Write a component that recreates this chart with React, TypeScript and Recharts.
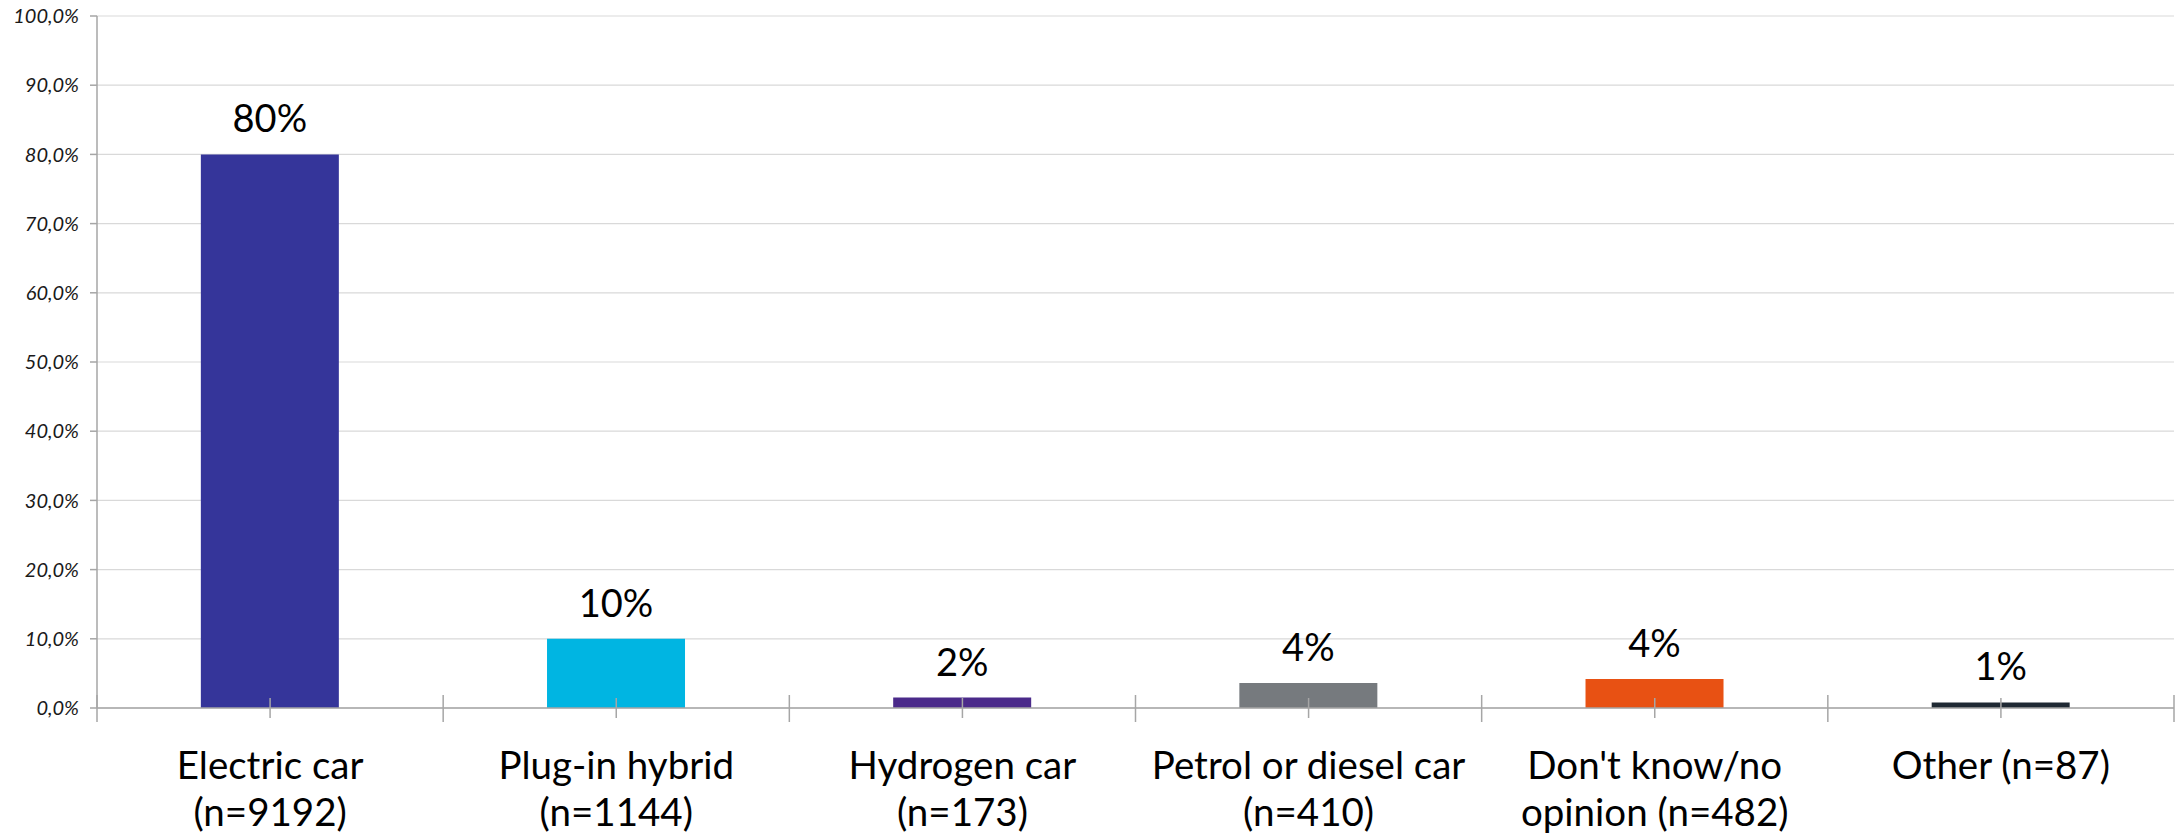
import { BarChart, Bar, XAxis, YAxis, CartesianGrid, Cell, LabelList } from "recharts";

const categories = [
  "Electric car\n(n=9192)",
  "Plug-in hybrid\n(n=1144)",
  "Hydrogen car\n(n=173)",
  "Petrol or diesel car\n(n=410)",
  "Don't know/no\nopinion (n=482)",
  "Other (n=87)",
];
const shares = [80.0, 10.0, 1.5, 3.6, 4.2, 0.8];
const barColors = ["#35359A", "#00B5E2", "#4B2A8A", "#767A7E", "#E85113", "#1F2933"];
const yTicks = [0, 10, 20, 30, 40, 50, 60, 70, 80, 90, 100];

const FONT = "Lato, 'Open Sans', sans-serif";
const AXIS = "#A6A6A6";

const chartData = categories.map((name, i) => ({ name, share: shares[i] }));

function CategoryTick(props: any) {
  const { x, y, payload, index } = props;
  const half = payload?.offset ?? 173;
  const lines = String(payload.value).split("\n");
  return (
    <g>
      <line x1={x} x2={x} y1={y - 10} y2={y + 10} stroke={AXIS} strokeWidth={1.5} />
      <line x1={x + half} x2={x + half} y1={y - 13} y2={y + 14} stroke={AXIS} strokeWidth={1.5} />
      {index === 0 && (
        <line x1={x - half} x2={x - half} y1={y - 13} y2={y + 14} stroke={AXIS} strokeWidth={1.5} />
      )}
      <text x={x} y={y + 71} textAnchor="middle" fill="#000" fontSize={38.5} fontFamily={FONT}>
        {lines.map((l, i) => (
          <tspan key={i} x={x} dy={i === 0 ? 0 : 47}>
            {l}
          </tspan>
        ))}
      </text>
    </g>
  );
}

function ValueLabel(props: any) {
  const { x, y, width, value } = props;
  return (
    <text x={x + width / 2} y={y - 22} textAnchor="middle" fill="#000" fontSize={38} fontFamily={FONT}>
      {Math.round(value)}%
    </text>
  );
}

export default function App() {
  return (
    <div style={{ position: "absolute", left: 0, top: 0, background: "#fff" }}>
      <BarChart
        width={2181}
        height={837}
        data={chartData}
        margin={{ top: 16, right: 7, left: 0, bottom: 0 }}
        barCategoryGap="30%"
      >
        <CartesianGrid vertical={false} stroke="#D9D9D9" strokeWidth={1.2} />
        <XAxis
          dataKey="name"
          height={129}
          interval={0}
          tickLine={false}
          tickSize={0}
          tickMargin={0}
          axisLine={{ stroke: AXIS, strokeWidth: 1.5 }}
          tick={<CategoryTick />}
        />
        <YAxis
          width={97}
          domain={[0, 100]}
          ticks={yTicks}
          interval={0}
          tickSize={7}
          tickMargin={11}
          axisLine={{ stroke: AXIS, strokeWidth: 1.5 }}
          tickLine={{ stroke: AXIS, strokeWidth: 1.5 }}
          tick={{ fill: "#1a1a1a", fontSize: 20, fontStyle: "italic", fontFamily: FONT }}
          tickFormatter={(v: number) => v.toFixed(1).replace(".", ",") + "%"}
        />
        <Bar dataKey="share" isAnimationActive={false}>
          {chartData.map((_, i) => (
            <Cell key={`cell-${i}`} fill={barColors[i]} />
          ))}
          <LabelList dataKey="share" content={<ValueLabel />} />
        </Bar>
      </BarChart>
    </div>
  );
}
